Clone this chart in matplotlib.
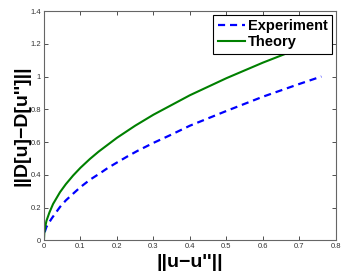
import matplotlib
matplotlib.use("Agg")
import matplotlib.pyplot as plt
from matplotlib.ticker import FuncFormatter

# values
exp_x = [0.002, 0.007, 0.021, 0.044, 0.06, 0.08, 0.1, 0.126, 0.154, 0.175,
         0.2, 0.23, 0.257, 0.3, 0.342, 0.4, 0.5, 0.6, 0.7, 0.76]
exp_y = [0.05, 0.083, 0.133, 0.204, 0.244, 0.285, 0.325, 0.37, 0.41, 0.442,
         0.475, 0.514, 0.547, 0.595, 0.638, 0.70, 0.79, 0.877, 0.955, 1.0]

theory_x = [0.0, 0.001, 0.003, 0.007, 0.015, 0.025, 0.044, 0.06, 0.08, 0.1,
            0.126, 0.15, 0.2, 0.25, 0.3, 0.4, 0.5, 0.6, 0.7, 0.76]
theory_y = [0.0, 0.045, 0.077, 0.12, 0.17, 0.222, 0.294, 0.343, 0.396, 0.443,
            0.497, 0.542, 0.626, 0.70, 0.767, 0.886, 0.99, 1.085, 1.172, 1.22]

x_ticks = [0, 0.1, 0.2, 0.3, 0.4, 0.5, 0.6, 0.7, 0.8]
y_ticks = [0, 0.2, 0.4, 0.6, 0.8, 1.0, 1.2, 1.4]

plt.rcParams["font.family"] = ["Liberation Sans", "DejaVu Sans"]

fig = plt.figure(figsize=(3.46, 2.75), dpi=100)
ax = fig.add_axes([0.127, 0.126, 0.844, 0.834])

ax.plot(exp_x, exp_y, color="#0000ff", lw=1.6, ls=(0, (3.2, 2.2)), label="Experiment")
ax.plot(theory_x, theory_y, color="#008000", lw=1.5, label="Theory")

ax.set_xlim(0, 0.8)
ax.set_ylim(0, 1.4)
ax.set_xticks(x_ticks)
ax.set_yticks(y_ticks)
ax.xaxis.set_major_formatter(FuncFormatter(lambda v, p: f"{v:g}"))
ax.yaxis.set_major_formatter(FuncFormatter(lambda v, p: f"{v:g}"))
ax.tick_params(direction="in", length=3, width=0.6, labelsize=5.5,
               colors="#333333", top=True, right=True, pad=2)
for sp in ax.spines.values():
    sp.set_color("#666666")
    sp.set_linewidth(0.8)

ax.set_xlabel("||u\u2212u''||", fontsize=14, fontweight="bold", labelpad=3)
ax.set_ylabel("||D[u]\u2212D[u'']||", fontsize=14, fontweight="bold", labelpad=0)

leg = ax.legend(loc="upper right", prop={"weight": "bold", "size": 10.5},
                handlelength=1.9, handletextpad=0.2, borderpad=0.3,
                labelspacing=0.15, borderaxespad=0.25, fancybox=False, framealpha=1)
leg.get_frame().set_edgecolor("black")
leg.get_frame().set_linewidth(0.8)

fig.savefig("out.png", dpi=100)
